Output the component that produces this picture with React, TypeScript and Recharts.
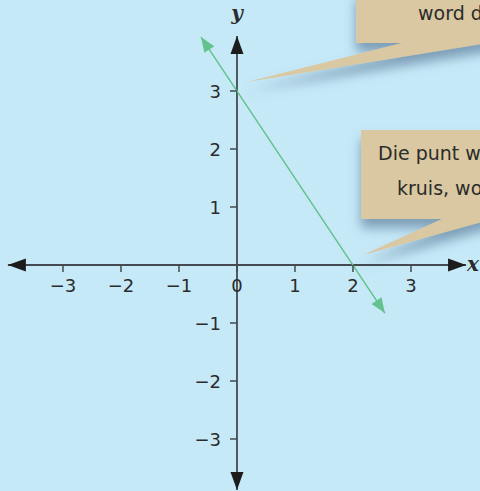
import React from 'react';
import { ComposedChart, Line, Scatter, XAxis, YAxis } from 'recharts';

// graph of y = -1.5x + 3
const graphLine = [
  { x: -0.62, y: 3.93 },
  { x: 2.55, y: -0.83 },
];
const xAxisLine = [
  { x: -3.95, y: 0 },
  { x: 3.95, y: 0 },
];
const yAxisLine = [
  { x: 0, y: 3.95 },
  { x: 0, y: -3.88 },
];
const xTickValues = [-3, -2, -1, 0, 1, 2, 3];
const yTickValues = [3, 2, 1, -1, -2, -3];
const axisNames = [
  { x: 4.07, y: 0, name: 'x' },
  { x: 0, y: 4.33, name: 'y' },
];

const xTicks = xTickValues.map((v) => ({ x: v, y: 0, label: v < 0 ? `\u2212${-v}` : `${v}` }));
const yTicks = yTickValues.map((v) => ({ x: 0, y: v, label: v < 0 ? `\u2212${-v}` : `${v}` }));

const BG = '#c6e9f8';
const TAN = '#d9c8a1';
const GREEN = '#63c28e';
const AXIS = '#444a4f';
const INK = '#2b2b2b';
const FONT = '"DejaVu Sans", sans-serif';

// arrow head drawn at each end of a two-point line, pointing outward
const arrowDot = (len: number, half: number, color: string) => (props: any) => {
  const { cx, cy, index, points } = props;
  if (cx == null || cy == null || !points || points.length < 2) return <g key={index} />;
  const other = index === 0 ? points[1] : points[0];
  let dx = cx - other.x;
  let dy = cy - other.y;
  const d = Math.hypot(dx, dy) || 1;
  dx /= d;
  dy /= d;
  const bx = cx - dx * len;
  const by = cy - dy * len;
  const pts = `${cx},${cy} ${bx - dy * half},${by + dx * half} ${bx + dy * half},${by - dx * half}`;
  return <polygon key={index} points={pts} fill={color} />;
};

const XTick = (props: any) => {
  const { cx, cy, payload } = props;
  return (
    <g>
      <line x1={cx} y1={cy} x2={cx} y2={cy + 7} stroke={AXIS} strokeWidth={1.5} />
      <text x={cx} y={cy + 27} textAnchor="middle" fontSize={18} fontFamily={FONT} fill={INK}>
        {payload.label}
      </text>
    </g>
  );
};

const YTick = (props: any) => {
  const { cx, cy, payload } = props;
  return (
    <g>
      <line x1={cx} y1={cy} x2={cx - 7} y2={cy} stroke={AXIS} strokeWidth={1.5} />
      <text x={cx - 16} y={cy + 7} textAnchor="end" fontSize={18} fontFamily={FONT} fill={INK}>
        {payload.label}
      </text>
    </g>
  );
};

const AxisName = (props: any) => {
  const { cx, cy, payload } = props;
  return (
    <text
      x={cx}
      y={cy + 6}
      textAnchor="middle"
      fontSize={20}
      fontStyle="italic"
      fontWeight="bold"
      fontFamily='"DejaVu Serif", "Liberation Serif", serif'
      fill={INK}
    >
      {payload.name}
    </text>
  );
};

const Callouts = () => (
  <svg width={480} height={491} style={{ position: 'absolute', left: 0, top: 0, pointerEvents: 'none' }}>
    <defs>
      <filter id="calloutShadow" x="-20%" y="-20%" width="140%" height="160%">
        <feDropShadow dx={0} dy={9} stdDeviation={6} floodColor="#3d5f80" floodOpacity={0.55} />
      </filter>
    </defs>
    <path d="M356,-10 L500,-10 L500,41 L247,82 L402,43 L356,43 Z" fill={TAN} filter="url(#calloutShadow)" />
    <text x={418} y={20} fontSize={19} fontFamily={FONT} fill={INK}>
      word deur
    </text>
    <path d="M361,130 L500,130 L500,217 L363,255 L442,219 L361,219 Z" fill={TAN} filter="url(#calloutShadow)" />
    <text x={378} y={160} fontSize={19} fontFamily={FONT} fill={INK}>
      Die punt waar
    </text>
    <text x={397} y={195} fontSize={19} fontFamily={FONT} fill={INK}>
      kruis, word
    </text>
  </svg>
);

export default function App() {
  return (
    <div style={{ position: 'fixed', left: 0, top: 0, width: 480, height: 491, background: BG, overflow: 'hidden' }}>
      <ComposedChart width={480} height={491} margin={{ top: 0, right: 0, bottom: 0, left: 0 }}>
        <XAxis type="number" dataKey="x" domain={[-4.086, 4.19]} allowDataOverflow hide />
        <YAxis type="number" dataKey="y" domain={[-3.897, 4.569]} allowDataOverflow hide />
        <Line
          data={xAxisLine}
          dataKey="y"
          stroke={AXIS}
          strokeWidth={1.8}
          dot={arrowDot(18, 6.5, '#1c1c1c')}
          activeDot={false}
          isAnimationActive={false}
        />
        <Line
          data={yAxisLine}
          dataKey="y"
          stroke={AXIS}
          strokeWidth={1.8}
          dot={arrowDot(18, 6.5, '#1c1c1c')}
          activeDot={false}
          isAnimationActive={false}
        />
        <Scatter data={xTicks} dataKey="y" shape={XTick} isAnimationActive={false} />
        <Scatter data={yTicks} dataKey="y" shape={YTick} isAnimationActive={false} />
        <Scatter data={axisNames} dataKey="y" shape={AxisName} isAnimationActive={false} />
        <Line
          data={graphLine}
          dataKey="y"
          stroke={GREEN}
          strokeWidth={1.5}
          dot={arrowDot(15, 6, GREEN)}
          activeDot={false}
          isAnimationActive={false}
        />
      </ComposedChart>
      <Callouts />
    </div>
  );
}
